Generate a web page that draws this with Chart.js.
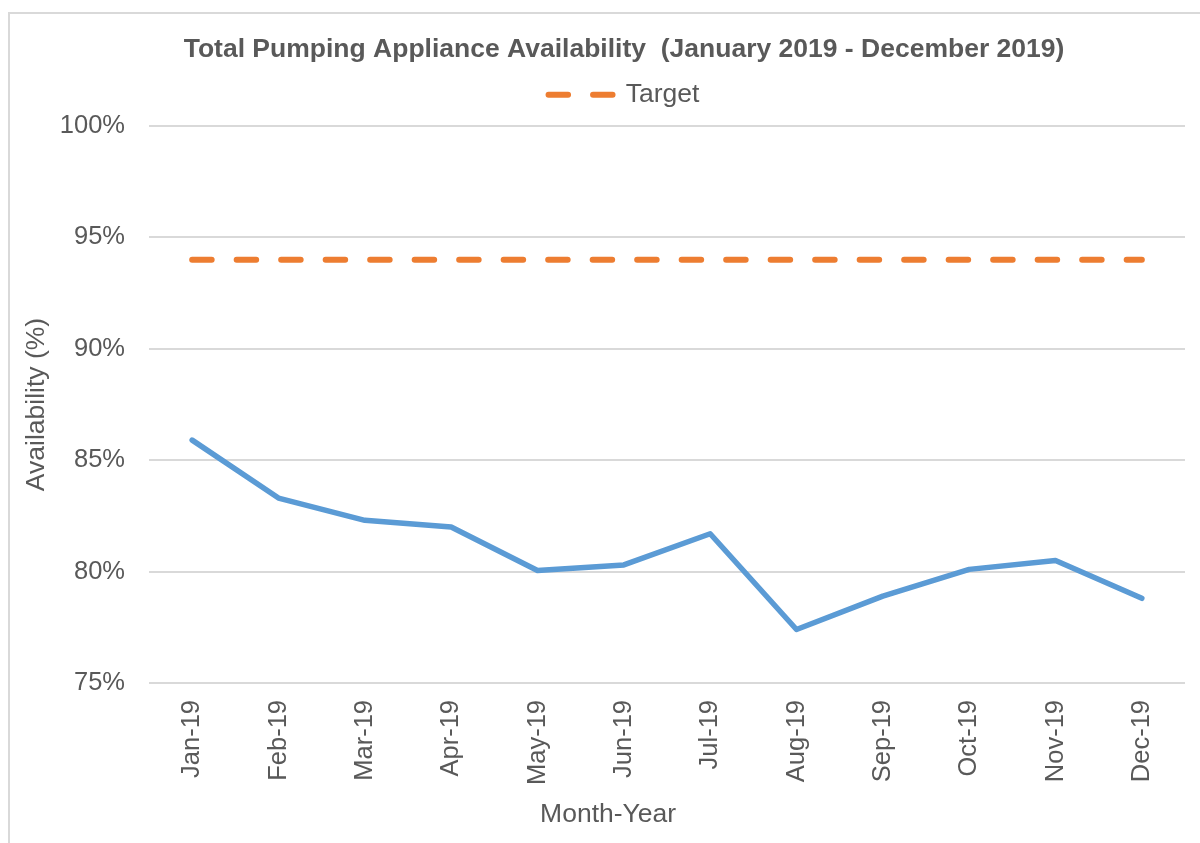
<!DOCTYPE html>
<html>
<head>
<meta charset="utf-8">
<script src="https://cdn.jsdelivr.net/npm/chart.js@4"></script>
<style>
    html, body { margin: 0; padding: 0; background: #fff; overflow: hidden; }
    #frame {
        position: absolute; left: 8px; top: 12px;
        width: 1240px; height: 850px;
        border: 2px solid #d9d9d9; box-sizing: border-box;
    }
    #wrap { position: absolute; left: 0; top: 0; width: 1200px; height: 843px; overflow: hidden; }
</style>
</head>
<body>
<div id="frame"></div>
<div id="wrap"><canvas id="chart" width="1248" height="843"></canvas></div>
<script>
const months = ["Jan-19", "Feb-19", "Mar-19", "Apr-19", "May-19", "Jun-19",
                "Jul-19", "Aug-19", "Sep-19", "Oct-19", "Nov-19", "Dec-19"];
const availability = [85.9, 83.3, 82.3, 82.0, 80.05, 80.3, 81.7, 77.4, 78.9, 80.1, 80.5, 78.8];
const target = [94, 94, 94, 94, 94, 94, 94, 94, 94, 94, 94, 94];
const yTicks = [75, 80, 85, 90, 95, 100];

const grey = "#595959";
const font = "'Liberation Sans', Arial, sans-serif";

document.addEventListener("DOMContentLoaded", function () {
    const ctx = document.getElementById("chart").getContext("2d");

    new Chart(ctx, {
        type: "line",
        data: {
            labels: months,
            datasets: [{
                label: "Availability",
                data: availability,
                borderColor: "#5b9bd5",
                borderWidth: 5.5,
                pointRadius: 0,
                tension: 0,
                borderCapStyle: "round",
                borderJoinStyle: "round",
            }, {
                label: "Target",
                data: target,
                borderColor: "#ed7d31",
                borderWidth: 6,
                borderDash: [19.5, 25],
                borderCapStyle: "round",
                pointRadius: 0,
            }],
        },
        options: {
            responsive: false,
            animation: false,
            layout: {
                padding: { left: 12, right: 12, top: 0, bottom: 0 },
            },
            plugins: {
                title: {
                    display: true,
                    text: "Total Pumping Appliance Availability  (January 2019 - December 2019)",
                    color: grey,
                    font: { family: font, size: 26.5, weight: "bold", lineHeight: 1 },
                    padding: { top: 36, bottom: 0 },
                },
                // empty box used as a gap between the legend and the plot
                subtitle: {
                    display: true,
                    text: "",
                    weight: 500,
                    font: { size: 1, lineHeight: 1 },
                    padding: { top: 0, bottom: 7 },
                },
                legend: {
                    display: true,
                    labels: {
                        usePointStyle: true,
                        pointStyle: "line",
                        pointStyleWidth: 64,
                        color: grey,
                        font: { family: font, size: 26.5 },
                        padding: 19,
                        generateLabels: function (chart) {
                            const items = Chart.defaults.plugins.legend.labels.generateLabels(chart);
                            items.forEach(function (item) {
                                const ds = chart.data.datasets[item.datasetIndex];
                                item.lineDash = ds.borderDash || [];
                                item.lineWidth = ds.borderWidth;
                                item.lineCap = "round";
                            });
                            // only the target line has a legend entry
                            return items.filter(item => item.text === "Target");
                        },
                    },
                },
                tooltip: { enabled: false },
            },
            scales: {
                x: {
                    offset: true,
                    afterFit: function (scale) {
                        scale.height = 160;
                    },
                    grid: { display: false, drawTicks: false },
                    border: { display: false },
                    ticks: {
                        color: grey,
                        font: { family: font, size: 25.5 },
                        minRotation: 90,
                        maxRotation: 90,
                        padding: 17,
                        autoSkip: false,
                    },
                    title: {
                        display: true,
                        // trailing spaces move the title left, as in the original
                        text: "Month-Year                ",
                        color: grey,
                        font: { family: font, size: 26.5 },
                        padding: { top: 0, bottom: 12 },
                    },
                },
                y: {
                    min: 75,
                    max: 100,
                    afterBuildTicks: function (scale) {
                        scale.ticks = yTicks.map(v => ({ value: v }));
                    },
                    afterFit: function (scale) {
                        scale.width = 137;
                    },
                    grid: { color: "#d9d9d9", lineWidth: 2, drawTicks: false },
                    border: { display: false },
                    ticks: {
                        color: grey,
                        font: { family: font, size: 25.5 },
                        padding: 24,
                        callback: (v) => v + "%",
                    },
                    title: {
                        display: true,
                        text: "Availability (%)",
                        color: grey,
                        font: { family: font, size: 26.5 },
                        padding: { top: 9, bottom: 0 },
                    },
                },
                // empty right-hand space, like the original chart
                spacer: {
                    type: "linear",
                    position: "right",
                    afterFit: function (scale) {
                        scale.width = 51;
                    },
                    grid: { display: false },
                    border: { display: false },
                    ticks: { display: false },
                },
            },
        },
    });
});
</script>
</body>
</html>
